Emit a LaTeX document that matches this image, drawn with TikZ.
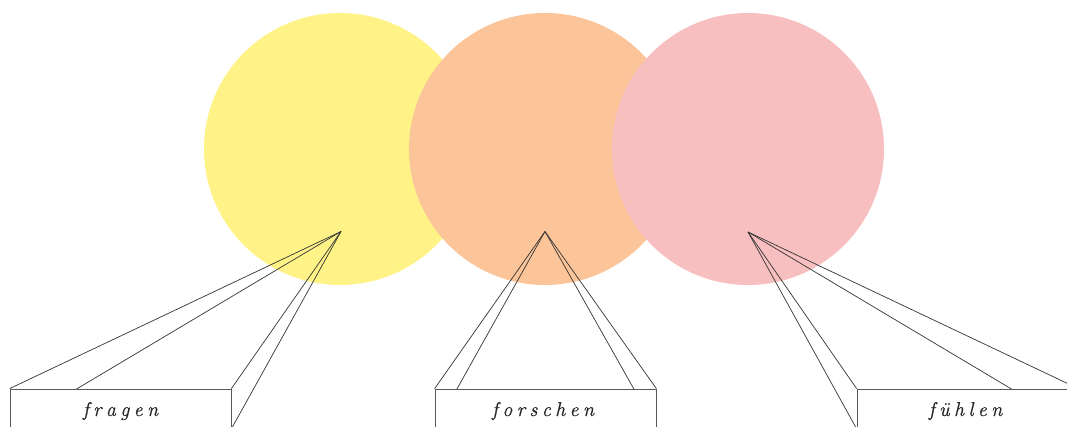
\documentclass[tikz,border=0pt]{standalone}
\usepackage{fontspec}
\newfontfamily\lblfont[FakeBold=0.6]{Latin Modern Roman}
\definecolor{cyel}{RGB}{255,243,135}
\definecolor{corg}{RGB}{251,196,153}
\definecolor{cpnk}{RGB}{248,191,192}
\newcommand{\lsp}{\hspace{4.4pt}}
\pgfdeclarelayer{circles}
\pgfdeclarelayer{rays}
\pgfsetlayers{circles,rays,main}
\tikzset{
  blob/.style={circle, minimum size=272pt, inner sep=0pt, draw=none},
  boxface/.style={draw=black!65, fill=white, line width=0.75pt, minimum width=221pt, minimum height=39.5pt, inner sep=0pt},
  ray/.style={draw=black!80, line width=0.7pt},
  lbl/.style={font=\fontsize{20}{24}\lblfont\itshape, inner sep=0pt, text=black!85}
}
\begin{document}
\begin{tikzpicture}[x=1pt,y=-1pt]
\useasboundingbox (0,0) rectangle (1067,427);
\clip (0,0) rectangle (1067,427);
\begin{pgfonlayer}{circles}
\node[blob, fill=cyel] (c1) at (340,149) {};
\node[blob, fill=corg] (c2) at (545,149) {};
\node[blob, fill=cpnk] (c3) at (748,149) {};
\end{pgfonlayer}
\coordinate (a1) at (341,231.5);
\coordinate (a2) at (545,231.5);
\coordinate (a3) at (748,232);
\node[boxface] (b1) at (120.5,408.75) {};
\node[boxface] (b2) at (545.5,408.75) {};
\node[boxface] (b3) at (967.5,408.75) {};
\node[lbl] (t1) at (120.5,411) {f\lsp r\lsp a\lsp g\lsp e\lsp n};
\node[lbl] (t2) at (543,411) {f\lsp o\lsp r\lsp s\lsp c\lsp h\lsp e\lsp n};
\node[lbl] (t3) at (965.5,411) {f\lsp ü\lsp h\lsp l\lsp e\lsp n};
\begin{pgfonlayer}{rays}
\foreach \i in {1,2,3}{
  \draw[ray] (a\i) -- (b\i.north west);
  \draw[ray] (a\i) -- (b\i.north east);
  \draw[ray] (a\i) -- (b\i.south west);
  \draw[ray] (a\i) -- (b\i.south east);
}
\end{pgfonlayer}
\end{tikzpicture}
\end{document}
